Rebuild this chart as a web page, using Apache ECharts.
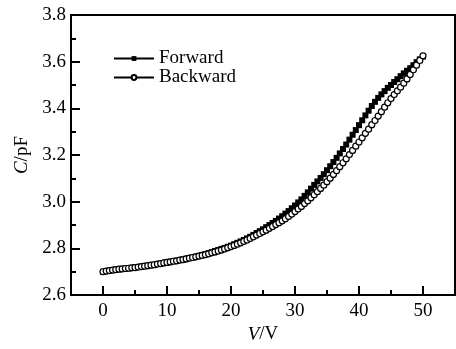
<!DOCTYPE html>
<html><head><meta charset="utf-8">
<script src="https://cdn.jsdelivr.net/npm/echarts@6/dist/echarts.min.js"></script>
<style>html,body{margin:0;padding:0;background:#fff}#c{width:456px;height:349px}</style>
</head><body><div id="c"></div>
<script>
const voltage = [0,0.5,1,1.5,2,2.5,3,3.5,4,4.5,5,5.5,6,6.5,7,7.5,8,8.5,9,9.5,
  10,10.5,11,11.5,12,12.5,13,13.5,14,14.5,15,15.5,16,16.5,17,17.5,18,18.5,19,19.5,
  20,20.5,21,21.5,22,22.5,23,23.5,24,24.5,25,25.5,26,26.5,27,27.5,28,28.5,29,29.5,
  30,30.5,31,31.5,32,32.5,33,33.5,34,34.5,35,35.5,36,36.5,37,37.5,38,38.5,39,39.5,
  40,40.5,41,41.5,42,42.5,43,43.5,44,44.5,45,45.5,46,46.5,47,47.5,48,48.5,49,49.5,50];
const forwardC = [
  2.700,2.703,2.705,2.707,2.709,2.711,2.712,2.714,2.715,2.717,
  2.718,2.720,2.722,2.724,2.726,2.728,2.730,2.733,2.735,2.738,
  2.740,2.743,2.745,2.748,2.750,2.753,2.756,2.759,2.762,2.765,
  2.768,2.772,2.776,2.780,2.784,2.789,2.793,2.798,2.802,2.807,
  2.812,2.818,2.824,2.830,2.836,2.843,2.850,2.858,2.866,2.874,
  2.882,2.891,2.900,2.909,2.918,2.928,2.938,2.949,2.960,2.972,
  2.984,2.997,3.010,3.025,3.040,3.056,3.072,3.087,3.102,3.118,
  3.135,3.152,3.170,3.188,3.207,3.226,3.245,3.266,3.287,3.307,
  3.328,3.349,3.370,3.390,3.410,3.428,3.445,3.460,3.474,3.488,
  3.500,3.513,3.525,3.538,3.550,3.561,3.572,3.585,3.598,3.610,
  3.622];
const backwardC = [
  2.700,2.703,2.705,2.707,2.709,2.711,2.712,2.714,2.715,2.717,
  2.718,2.720,2.722,2.724,2.726,2.728,2.730,2.733,2.735,2.738,
  2.740,2.742,2.745,2.747,2.750,2.752,2.755,2.758,2.761,2.764,
  2.767,2.770,2.773,2.777,2.781,2.785,2.789,2.793,2.798,2.803,
  2.808,2.813,2.818,2.824,2.830,2.836,2.843,2.850,2.857,2.864,
  2.871,2.878,2.886,2.894,2.902,2.910,2.918,2.927,2.937,2.947,
  2.958,2.969,2.980,2.992,3.004,3.017,3.030,3.043,3.057,3.071,
  3.086,3.101,3.117,3.133,3.150,3.167,3.184,3.202,3.220,3.238,
  3.256,3.274,3.293,3.311,3.330,3.348,3.367,3.386,3.405,3.424,
  3.442,3.459,3.475,3.491,3.508,3.526,3.545,3.565,3.585,3.605,
  3.625];
const xMajorTicks = [0,10,20,30,40,50];
const xMinorTicks = [5,15,25,35,45];
const seriesNames = ['Forward','Backward'];

const FONT = '"Liberation Serif", "DejaVu Serif", serif';
const chart = echarts.init(document.getElementById('c'), null, {renderer:'canvas'});
const pairs = arr => voltage.map((v,i)=>[v,arr[i]]);
chart.setOption({
  animation:false,
  backgroundColor:'#fff',
  grid:{left:71,right:1,top:15,bottom:51,show:true,borderColor:'#000',borderWidth:2,backgroundColor:'transparent'},
  legend:{
    orient:'vertical', left:113, top:49, padding:0, itemWidth:40, itemHeight:6, itemGap:0,
    textStyle:{fontFamily:FONT,fontSize:19,color:'#000',padding:[0,0,0,0]},
    data:seriesNames
  },
  xAxis:[{
    type:'value', min:-5, max:55,
    name:'{i|V}/V', nameLocation:'middle', nameGap:23,
    nameTextStyle:{fontFamily:FONT,fontSize:19,color:'#000',rich:{i:{fontStyle:'italic',fontFamily:FONT,fontSize:19,color:'#000'}}},
    axisLine:{onZero:false,lineStyle:{color:'#000',width:2}},
    axisTick:{inside:true,length:9,lineStyle:{color:'#000',width:2},customValues:xMajorTicks},
    axisLabel:{fontFamily:FONT,fontSize:19,color:'#000',margin:6,customValues:xMajorTicks},
    splitLine:{show:false}
  },{
    type:'value', min:-5, max:55, position:'bottom',
    axisLine:{show:false,onZero:false},
    axisTick:{inside:true,length:5,lineStyle:{color:'#000',width:2},customValues:xMinorTicks},
    axisLabel:{show:false},
    splitLine:{show:false}
  }],
  yAxis:{
    type:'value', min:2.6, max:3.8, interval:0.2,
    name:'{i|C}/pF', nameLocation:'middle', nameGap:38, nameRotate:90,
    nameTextStyle:{fontFamily:FONT,fontSize:19,color:'#000',rich:{i:{fontStyle:'italic',fontFamily:FONT,fontSize:19,color:'#000'}}},
    axisLine:{onZero:false,lineStyle:{color:'#000',width:2}},
    axisTick:{inside:true,length:9,lineStyle:{color:'#000',width:2}},
    minorTick:{show:true,splitNumber:2,length:5,lineStyle:{color:'#000',width:2}},
    axisLabel:{fontFamily:FONT,fontSize:19,color:'#000',margin:5,formatter:v=>v.toFixed(1)},
    splitLine:{show:false}
  },
  series:[{
    name:seriesNames[0], type:'line', data:pairs(forwardC),
    symbol:'rect', symbolSize:6, showSymbol:true, showAllSymbol:true,
    itemStyle:{color:'#000'}, lineStyle:{color:'#000',width:1}
  },{
    name:seriesNames[1], type:'line', data:pairs(backwardC),
    symbol:'circle', symbolSize:6, showSymbol:true, showAllSymbol:true,
    itemStyle:{color:'#fff',borderColor:'#000',borderWidth:1.2}, lineStyle:{color:'#000',width:1}
  }]
});
</script></body></html>
